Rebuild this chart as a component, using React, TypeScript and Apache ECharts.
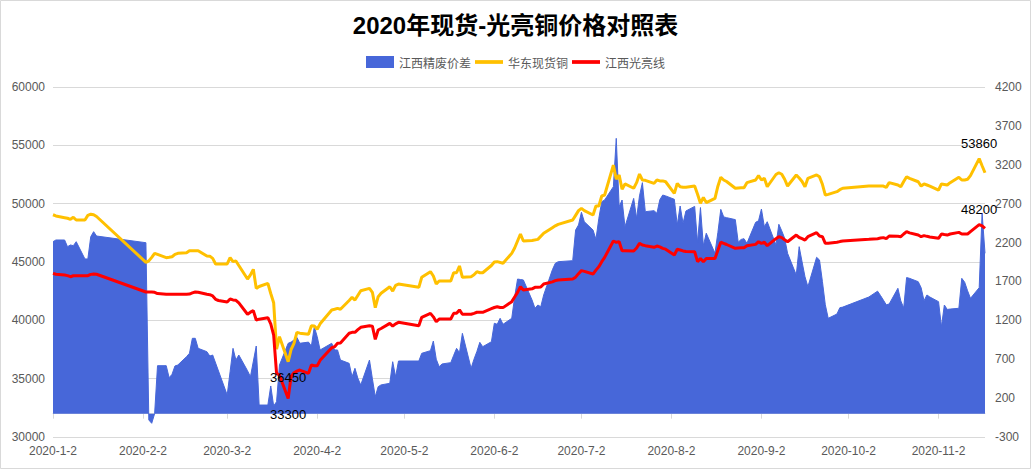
import React, { useEffect, useRef } from "react";
import * as echarts from "echarts";

const chartTitle = "2020年现货-光亮铜价格对照表";
const spreadName = "江西精废价差";
const spotName = "华东现货铜";
const brightName = "江西光亮线";

// axis ranges
const leftTicks = { min: 30000, max: 60000, interval: 5000 };
const rightTicks = { min: -300, max: 4200, interval: 500 };

// 华东现货铜 (left axis)
const spotData: [string, number][] = [
  ["2020-1-2", 49050], ["2020-1-3", 48950], ["2020-1-6", 48800], ["2020-1-7", 48750], ["2020-1-8", 48660], ["2020-1-9", 48830], ["2020-1-10", 48600], ["2020-1-13", 48600], ["2020-1-14", 49000], ["2020-1-15", 49100], ["2020-1-16", 49050], ["2020-1-17", 48900],
  ["2020-2-3", 44970], ["2020-2-4", 45100], ["2020-2-5", 45400], ["2020-2-6", 45740], ["2020-2-7", 45650], ["2020-2-10", 45370], ["2020-2-11", 45400], ["2020-2-12", 45450], ["2020-2-13", 45650], ["2020-2-14", 45740], ["2020-2-17", 45800], ["2020-2-18", 45970], ["2020-2-19", 45970], ["2020-2-20", 45970], ["2020-2-21", 45970], ["2020-2-24", 45510], ["2020-2-25", 45500], ["2020-2-26", 45310], ["2020-2-27", 44830], ["2020-2-28", 44830],
  ["2020-3-2", 44830], ["2020-3-3", 45370], ["2020-3-4", 45030], ["2020-3-5", 45090], ["2020-3-6", 44700], ["2020-3-9", 43540], ["2020-3-10", 43900], ["2020-3-11", 44370], ["2020-3-12", 42740], ["2020-3-13", 42900], ["2020-3-16", 43170], ["2020-3-17", 42300], ["2020-3-18", 41510], ["2020-3-19", 37520], ["2020-3-20", 38600], ["2020-3-23", 36450], ["2020-3-24", 37500], ["2020-3-25", 38030], ["2020-3-26", 38970], ["2020-3-27", 38900], ["2020-3-30", 38800], ["2020-3-31", 39540],
  ["2020-4-1", 39510], ["2020-4-2", 39230], ["2020-4-3", 39700], ["2020-4-7", 40890], ["2020-4-8", 40950], ["2020-4-9", 41030], ["2020-4-10", 40950], ["2020-4-13", 41700], ["2020-4-14", 41970], ["2020-4-15", 41740], ["2020-4-17", 42540], ["2020-4-20", 42740], ["2020-4-21", 42400], ["2020-4-22", 41090], ["2020-4-23", 42030], ["2020-4-24", 42320], ["2020-4-27", 42880], ["2020-4-28", 42510], ["2020-4-29", 43000], ["2020-4-30", 43110],
  ["2020-5-7", 42830], ["2020-5-8", 43690], ["2020-5-11", 44170], ["2020-5-12", 43800], ["2020-5-13", 43110], ["2020-5-14", 43370], ["2020-5-15", 43370], ["2020-5-18", 43370], ["2020-5-19", 44080], ["2020-5-20", 44080], ["2020-5-21", 44660], ["2020-5-22", 43690], ["2020-5-25", 43740], ["2020-5-26", 43900], ["2020-5-27", 44170], ["2020-5-28", 44080], ["2020-5-29", 44080],
  ["2020-6-1", 44700], ["2020-6-2", 45000], ["2020-6-3", 45030], ["2020-6-5", 44890], ["2020-6-8", 45740], ["2020-6-9", 46200], ["2020-6-10", 46800], ["2020-6-11", 47400], ["2020-6-12", 46800], ["2020-6-15", 46850], ["2020-6-17", 46940], ["2020-6-19", 47460], ["2020-6-22", 47940], ["2020-6-23", 48100], ["2020-6-24", 48230], ["2020-6-29", 48600], ["2020-6-30", 49000],
  ["2020-7-1", 49400], ["2020-7-2", 49600], ["2020-7-3", 49400], ["2020-7-6", 49030], ["2020-7-7", 49800], ["2020-7-8", 49800], ["2020-7-9", 50660], ["2020-7-10", 50740], ["2020-7-13", 53310], ["2020-7-14", 52090], ["2020-7-15", 52460], ["2020-7-16", 51230], ["2020-7-17", 51690], ["2020-7-20", 51320], ["2020-7-21", 51800], ["2020-7-22", 52540], ["2020-7-23", 52030], ["2020-7-24", 52000], ["2020-7-27", 51740], ["2020-7-28", 52030], ["2020-7-29", 51950], ["2020-7-30", 51950], ["2020-7-31", 51880],
  ["2020-8-3", 50880], ["2020-8-4", 51740], ["2020-8-5", 51450], ["2020-8-6", 51400], ["2020-8-7", 51400], ["2020-8-10", 51510], ["2020-8-11", 50800], ["2020-8-12", 50030], ["2020-8-13", 50540], ["2020-8-14", 50090], ["2020-8-17", 50460], ["2020-8-18", 51500], ["2020-8-19", 52260], ["2020-8-20", 52030], ["2020-8-21", 51900], ["2020-8-24", 51320], ["2020-8-25", 51350], ["2020-8-26", 51370], ["2020-8-27", 51370], ["2020-8-28", 51800], ["2020-8-31", 52030],
  ["2020-9-1", 52400], ["2020-9-2", 52030], ["2020-9-3", 52170], ["2020-9-4", 51450], ["2020-9-7", 52500], ["2020-9-8", 52650], ["2020-9-9", 52520], ["2020-9-10", 52090], ["2020-9-11", 51510], ["2020-9-14", 52460], ["2020-9-15", 52200], ["2020-9-16", 51900], ["2020-9-17", 51450], ["2020-9-18", 52170], ["2020-9-21", 52460], ["2020-9-22", 52300], ["2020-9-23", 51660], ["2020-9-24", 50740], ["2020-9-25", 50800], ["2020-9-28", 51030], ["2020-9-29", 51200], ["2020-9-30", 51320],
  ["2020-10-9", 51510], ["2020-10-12", 51510], ["2020-10-13", 51520], ["2020-10-14", 51510], ["2020-10-15", 51400], ["2020-10-16", 51800], ["2020-10-19", 51600], ["2020-10-20", 51450], ["2020-10-21", 51900], ["2020-10-22", 52310], ["2020-10-23", 52170], ["2020-10-26", 51880], ["2020-10-27", 51510], ["2020-10-28", 51690], ["2020-10-29", 51600], ["2020-10-30", 51510],
  ["2020-11-2", 51170], ["2020-11-3", 51690], ["2020-11-4", 51650], ["2020-11-5", 51600], ["2020-11-6", 51800], ["2020-11-9", 52260], ["2020-11-10", 52030], ["2020-11-11", 52030], ["2020-11-12", 52090], ["2020-11-13", 52400], ["2020-11-16", 53860], ["2020-11-17", 53250], ["2020-11-18", 52650],
];

// 江西光亮线 (left axis)
const brightData: [string, number][] = [
  ["2020-1-2", 44030], ["2020-1-3", 43950], ["2020-1-6", 43880], ["2020-1-7", 43830], ["2020-1-8", 43740], ["2020-1-9", 43820], ["2020-1-10", 43830], ["2020-1-13", 43830], ["2020-1-14", 43830], ["2020-1-15", 43940], ["2020-1-16", 43970], ["2020-1-17", 43950],
  ["2020-2-3", 42430], ["2020-2-4", 42430], ["2020-2-5", 42430], ["2020-2-6", 42400], ["2020-2-7", 42290], ["2020-2-10", 42230], ["2020-2-11", 42230], ["2020-2-12", 42230], ["2020-2-13", 42230], ["2020-2-14", 42230], ["2020-2-17", 42230], ["2020-2-18", 42250], ["2020-2-19", 42350], ["2020-2-20", 42430], ["2020-2-21", 42400], ["2020-2-24", 42230], ["2020-2-25", 42200], ["2020-2-26", 42090], ["2020-2-27", 41800], ["2020-2-28", 41700],
  ["2020-3-2", 41570], ["2020-3-3", 41830], ["2020-3-4", 41750], ["2020-3-5", 41720], ["2020-3-6", 41500], ["2020-3-9", 40520], ["2020-3-10", 40700], ["2020-3-11", 40830], ["2020-3-12", 40030], ["2020-3-13", 40100], ["2020-3-16", 40230], ["2020-3-17", 39700], ["2020-3-18", 38740], ["2020-3-19", 35460], ["2020-3-20", 35300], ["2020-3-23", 33300], ["2020-3-24", 35200], ["2020-3-25", 35510], ["2020-3-26", 35650], ["2020-3-27", 35740], ["2020-3-30", 35460], ["2020-3-31", 36170],
  ["2020-4-1", 36110], ["2020-4-2", 36110], ["2020-4-3", 36570], ["2020-4-7", 37650], ["2020-4-8", 37740], ["2020-4-9", 38030], ["2020-4-10", 38050], ["2020-4-13", 38890], ["2020-4-14", 38970], ["2020-4-15", 38970], ["2020-4-16", 39200], ["2020-4-17", 39400], ["2020-4-20", 39540], ["2020-4-21", 39500], ["2020-4-22", 38370], ["2020-4-23", 39170], ["2020-4-24", 39300], ["2020-4-27", 39740], ["2020-4-28", 39510], ["2020-4-29", 39700], ["2020-4-30", 39830],
  ["2020-5-7", 39540], ["2020-5-8", 40260], ["2020-5-11", 40600], ["2020-5-12", 40300], ["2020-5-13", 39880], ["2020-5-14", 40110], ["2020-5-15", 40110], ["2020-5-18", 40110], ["2020-5-19", 40600], ["2020-5-20", 40600], ["2020-5-21", 40890], ["2020-5-22", 40520], ["2020-5-25", 40520], ["2020-5-26", 40600], ["2020-5-27", 40690], ["2020-5-28", 40690], ["2020-5-29", 40690],
  ["2020-6-1", 41000], ["2020-6-2", 41100], ["2020-6-3", 41170], ["2020-6-4", 41100], ["2020-6-5", 41090], ["2020-6-8", 41600], ["2020-6-9", 42000], ["2020-6-10", 42400], ["2020-6-11", 42880], ["2020-6-12", 42600], ["2020-6-15", 42700], ["2020-6-16", 42830], ["2020-6-17", 42830], ["2020-6-18", 42850], ["2020-6-19", 43110], ["2020-6-22", 43300], ["2020-6-23", 43400], ["2020-6-24", 43460], ["2020-6-29", 43540], ["2020-6-30", 43700],
  ["2020-7-1", 44000], ["2020-7-2", 44260], ["2020-7-3", 44200], ["2020-7-6", 43970], ["2020-7-7", 44300], ["2020-7-8", 44600], ["2020-7-9", 45030], ["2020-7-10", 45400], ["2020-7-13", 46800], ["2020-7-14", 46690], ["2020-7-15", 46740], ["2020-7-16", 45970], ["2020-7-17", 45970], ["2020-7-20", 45940], ["2020-7-21", 46200], ["2020-7-22", 46600], ["2020-7-23", 46460], ["2020-7-24", 46400], ["2020-7-27", 46260], ["2020-7-28", 46370], ["2020-7-29", 46300], ["2020-7-30", 46170], ["2020-7-31", 46100],
  ["2020-8-3", 45600], ["2020-8-4", 46090], ["2020-8-5", 46030], ["2020-8-6", 45950], ["2020-8-7", 45900], ["2020-8-10", 45880], ["2020-8-11", 45030], ["2020-8-12", 45310], ["2020-8-13", 45030], ["2020-8-14", 45310], ["2020-8-17", 45310], ["2020-8-18", 46000], ["2020-8-19", 46690], ["2020-8-20", 46600], ["2020-8-21", 46500], ["2020-8-24", 46170], ["2020-8-25", 46200], ["2020-8-26", 46230], ["2020-8-27", 46230], ["2020-8-28", 46400], ["2020-8-31", 46510],
  ["2020-9-1", 46740], ["2020-9-2", 46600], ["2020-9-3", 46690], ["2020-9-4", 46400], ["2020-9-7", 47000], ["2020-9-8", 47170], ["2020-9-9", 47090], ["2020-9-10", 46900], ["2020-9-11", 46740], ["2020-9-14", 47310], ["2020-9-15", 47100], ["2020-9-16", 47000], ["2020-9-17", 46880], ["2020-9-18", 47170], ["2020-9-21", 47510], ["2020-9-22", 47230], ["2020-9-23", 47170], ["2020-9-24", 46600], ["2020-9-25", 46600], ["2020-9-28", 46690], ["2020-9-29", 46750], ["2020-9-30", 46800],
  ["2020-10-9", 46940], ["2020-10-12", 47000], ["2020-10-13", 47050], ["2020-10-14", 47090], ["2020-10-15", 47000], ["2020-10-16", 47230], ["2020-10-19", 47200], ["2020-10-20", 47170], ["2020-10-21", 47400], ["2020-10-22", 47600], ["2020-10-23", 47500], ["2020-10-26", 47310], ["2020-10-27", 47170], ["2020-10-28", 47260], ["2020-10-29", 47200], ["2020-10-30", 47150],
  ["2020-11-2", 47030], ["2020-11-3", 47400], ["2020-11-4", 47350], ["2020-11-5", 47310], ["2020-11-6", 47400], ["2020-11-9", 47540], ["2020-11-10", 47400], ["2020-11-11", 47400], ["2020-11-12", 47400], ["2020-11-13", 47600], ["2020-11-16", 48200], ["2020-11-17", 48100], ["2020-11-18", 47880],
];

// 江西精废价差 (right axis)
const spreadData: [string, number][] = [
  ["2020-1-2", 2211], ["2020-1-3", 2233], ["2020-1-6", 2233], ["2020-1-7", 2147], ["2020-1-8", 2169], ["2020-1-9", 2160], ["2020-1-10", 2211], ["2020-1-13", 1989], ["2020-1-14", 1989], ["2020-1-15", 2275], ["2020-1-16", 2340], ["2020-1-17", 2284],
  ["2020-2-3", 2198], ["2020-2-4", -81], ["2020-2-5", -124], ["2020-2-6", 0], ["2020-2-7", 617], ["2020-2-10", 617], ["2020-2-11", 462], ["2020-2-12", 506], ["2020-2-13", 613], ["2020-2-14", 626], ["2020-2-17", 733], ["2020-2-18", 776], ["2020-2-19", 969], ["2020-2-20", 969], ["2020-2-21", 840], ["2020-2-24", 797], ["2020-2-25", 741], ["2020-2-26", 754],
  ["2020-3-2", 240], ["2020-3-3", 540], ["2020-3-4", 840], ["2020-3-5", 690], ["2020-3-6", 754], ["2020-3-9", 552], ["2020-3-10", 475], ["2020-3-12", 870], ["2020-3-13", 111], ["2020-3-16", 111], ["2020-3-17", 356], ["2020-3-18", 99], ["2020-3-19", 154], ["2020-3-20", 626], ["2020-3-23", 905], ["2020-3-24", 920], ["2020-3-25", 947], ["2020-3-26", 982], ["2020-3-27", 905], ["2020-3-30", 920], ["2020-3-31", 870],
  ["2020-4-1", 1118], ["2020-4-2", 990], ["2020-4-3", 819], ["2020-4-7", 905], ["2020-4-8", 819], ["2020-4-9", 819], ["2020-4-10", 690], ["2020-4-13", 647], ["2020-4-14", 475], ["2020-4-15", 583], ["2020-4-16", 455], ["2020-4-17", 369], ["2020-4-20", 690], ["2020-4-21", 450], ["2020-4-22", 218], ["2020-4-23", 347], ["2020-4-24", 370], ["2020-4-27", 390], ["2020-4-28", 668], ["2020-4-29", 475], ["2020-4-30", 677],
  ["2020-5-7", 677], ["2020-5-8", 776], ["2020-5-11", 810], ["2020-5-12", 934], ["2020-5-13", 700], ["2020-5-14", 604], ["2020-5-15", 639], ["2020-5-18", 656], ["2020-5-19", 750], ["2020-5-20", 840], ["2020-5-21", 784], ["2020-5-22", 1033], ["2020-5-25", 583], ["2020-5-26", 700], ["2020-5-27", 800], ["2020-5-28", 917], ["2020-5-29", 861],
  ["2020-6-1", 925], ["2020-6-2", 1162], ["2020-6-3", 1149], ["2020-6-4", 1226], ["2020-6-5", 1149], ["2020-6-8", 1226], ["2020-6-9", 1500], ["2020-6-10", 1731], ["2020-6-11", 1725], ["2020-6-12", 1719], ["2020-6-15", 1461], ["2020-6-16", 1355], ["2020-6-17", 1397], ["2020-6-18", 1375], ["2020-6-19", 1526], ["2020-6-22", 1850], ["2020-6-23", 1933], ["2020-6-24", 1954], ["2020-6-29", 1967], ["2020-6-30", 2361],
  ["2020-7-1", 2426], ["2020-7-2", 2589], ["2020-7-3", 2468], ["2020-7-6", 2361], ["2020-7-7", 2242], ["2020-7-8", 2512], ["2020-7-9", 2726], ["2020-7-10", 2747], ["2020-7-13", 2918], ["2020-7-14", 3540], ["2020-7-15", 2661], ["2020-7-16", 2747], ["2020-7-17", 2404], ["2020-7-20", 2768], ["2020-7-21", 2512], ["2020-7-22", 2800], ["2020-7-23", 2970], ["2020-7-24", 2597], ["2020-7-27", 2610], ["2020-7-28", 2576], ["2020-7-29", 2750], ["2020-7-30", 2811], ["2020-7-31", 2800],
  ["2020-8-3", 2756], ["2020-8-4", 2426], ["2020-8-5", 2670], ["2020-8-6", 2448], ["2020-8-7", 2606], ["2020-8-10", 2665], ["2020-8-11", 2200], ["2020-8-12", 2650], ["2020-8-13", 2160], ["2020-8-14", 2320], ["2020-8-17", 2062], ["2020-8-18", 2330], ["2020-8-19", 2627], ["2020-8-20", 2530], ["2020-8-21", 2520], ["2020-8-24", 2495], ["2020-8-25", 2205], ["2020-8-26", 2240], ["2020-8-27", 2250], ["2020-8-28", 2190], ["2020-8-31", 2460],
  ["2020-9-1", 2480], ["2020-9-2", 2631], ["2020-9-3", 2404], ["2020-9-4", 2468], ["2020-9-7", 2169], ["2020-9-8", 2435], ["2020-9-9", 2350], ["2020-9-10", 2255], ["2020-9-11", 2062], ["2020-9-14", 1783], ["2020-9-15", 2147], ["2020-9-16", 1950], ["2020-9-17", 1760], ["2020-9-18", 1632], ["2020-9-21", 2010], ["2020-9-22", 1976], ["2020-9-23", 1700], ["2020-9-24", 1400], ["2020-9-25", 1226], ["2020-9-28", 1281], ["2020-9-29", 1362], ["2020-9-30", 1370],
  ["2020-10-9", 1500], ["2020-10-12", 1575], ["2020-10-13", 1520], ["2020-10-14", 1460], ["2020-10-15", 1400], ["2020-10-16", 1410], ["2020-10-19", 1612], ["2020-10-20", 1450], ["2020-10-21", 1360], ["2020-10-22", 1750], ["2020-10-23", 1740], ["2020-10-26", 1697], ["2020-10-27", 1620], ["2020-10-28", 1452], ["2020-10-29", 1526], ["2020-10-30", 1500],
  ["2020-11-2", 1440], ["2020-11-3", 1118], ["2020-11-4", 1397], ["2020-11-5", 1340], ["2020-11-6", 1345], ["2020-11-9", 1355], ["2020-11-10", 1740], ["2020-11-11", 1690], ["2020-11-12", 1580], ["2020-11-13", 1483], ["2020-11-16", 1620], ["2020-11-17", 2580], ["2020-11-18", 2062],
];

function buildDays(): string[] {
  const out: string[] = [];
  const d = new Date(Date.UTC(2020, 0, 2));
  const end = Date.UTC(2020, 10, 18);
  while (d.getTime() <= end) {
    out.push(`${d.getUTCFullYear()}-${d.getUTCMonth() + 1}-${d.getUTCDate()}`);
    d.setUTCDate(d.getUTCDate() + 1);
  }
  return out;
}

const isMonthLabel = (_i: number, v: string) => v.split("-")[2] === "2";

const labelFont = "Liberation Sans, Arial, sans-serif";

// min / max of a series as markPoints with the value written below / above
function extremeMarks(data: [string, number][]) {
  let minI = 0;
  let maxI = 0;
  data.forEach((p, i) => {
    if (p[1] < data[minI][1]) minI = i;
    if (p[1] > data[maxI][1]) maxI = i;
  });
  const mk = (i: number, pos: string) => ({
    coord: [data[i][0], data[i][1]],
    value: data[i][1],
    label: {
      show: true,
      position: pos,
      distance: 9,
      color: "#000",
      fontSize: 13,
      fontFamily: labelFont,
      formatter: String(data[i][1]),
    },
  });
  return {
    symbol: "circle",
    symbolSize: 0,
    silent: true,
    data: [mk(minI, "bottom"), mk(maxI, "top")],
  };
}

const axisTextColor = "#595959";
const gridColor = "#d9d9d9";
const font = "Liberation Sans, Arial, 'Noto Sans CJK SC', sans-serif";
const lineIcon = "path://M0,0 L30,0 L30,4 L0,4 Z";

export default function App() {
  const ref = useRef<HTMLDivElement>(null);
  useEffect(() => {
    if (!ref.current) return;
    const chart = echarts.init(ref.current, undefined, { renderer: "svg" });
    const days = buildDays();
    chart.setOption({
      animation: false,
      backgroundColor: "#fff",
      textStyle: { fontFamily: font },
      title: {
        text: chartTitle,
        left: "center",
        top: 8,
        textStyle: { fontSize: 24, fontWeight: "bold", color: "#000", fontFamily: "Liberation Sans, 'Noto Sans CJK SC', sans-serif" },
      },
      graphic: [
        {
          type: "rect",
          silent: true,
          shape: { x: 0.5, y: 0.5, width: 1030, height: 468 },
          style: { fill: "none", stroke: gridColor, lineWidth: 1 },
        },
      ],
      legend: {
        top: 51,
        left: "center",
        itemGap: 4,
        itemWidth: 28,
        itemHeight: 12,
        textStyle: { fontSize: 12, color: axisTextColor, fontFamily: "'Noto Sans CJK SC', sans-serif" },
        data: [
          { name: spreadName, icon: "rect" },
          { name: spotName, icon: lineIcon },
          { name: brightName, icon: lineIcon },
        ],
      },
      grid: { left: 53, right: 46, top: 87, bottom: 32 },
      xAxis: {
        type: "category",
        data: days,
        boundaryGap: false,
        axisLine: { lineStyle: { color: gridColor } },
        axisTick: { interval: isMonthLabel, length: 5, lineStyle: { color: gridColor } },
        axisLabel: { interval: isMonthLabel, color: axisTextColor, fontSize: 12, margin: 8 },
        splitLine: { show: false },
      },
      yAxis: [
        {
          type: "value",
          ...leftTicks,
          axisLine: { show: false },
          axisTick: { show: false },
          axisLabel: { color: axisTextColor, fontSize: 12, margin: 8, formatter: (v: number) => String(v) },
          splitLine: { lineStyle: { color: gridColor, width: 1 } },
        },
        {
          type: "value",
          ...rightTicks,
          position: "right",
          axisLine: { show: false },
          axisTick: { show: false },
          axisLabel: { color: axisTextColor, fontSize: 12, margin: 10, formatter: (v: number) => String(v) },
          splitLine: { show: false },
        },
      ],
      series: [
        {
          name: spreadName,
          type: "line",
          yAxisIndex: 1,
          data: spreadData,
          symbol: "none",
          showSymbol: false,
          lineStyle: { width: 1, color: "#4767d9" },
          itemStyle: { color: "#4767d9" },
          areaStyle: { color: "#4767d9", opacity: 1 },
          z: 1,
        },
        {
          name: spotName,
          type: "line",
          yAxisIndex: 0,
          data: spotData,
          symbol: "none",
          showSymbol: false,
          lineStyle: { width: 3, color: "#ffc000" },
          itemStyle: { color: "#ffc000" },
          markPoint: extremeMarks(spotData),
          z: 3,
        },
        {
          name: brightName,
          type: "line",
          yAxisIndex: 0,
          data: brightData,
          symbol: "none",
          showSymbol: false,
          lineStyle: { width: 3, color: "#ff0000" },
          itemStyle: { color: "#ff0000" },
          markPoint: extremeMarks(brightData),
          z: 4,
        },
      ],
    });
    return () => chart.dispose();
  }, []);
  return (
    <div
      ref={ref}
      style={{ position: "absolute", left: 0, top: 0, width: 1031, height: 469 }}
    />
  );
}
